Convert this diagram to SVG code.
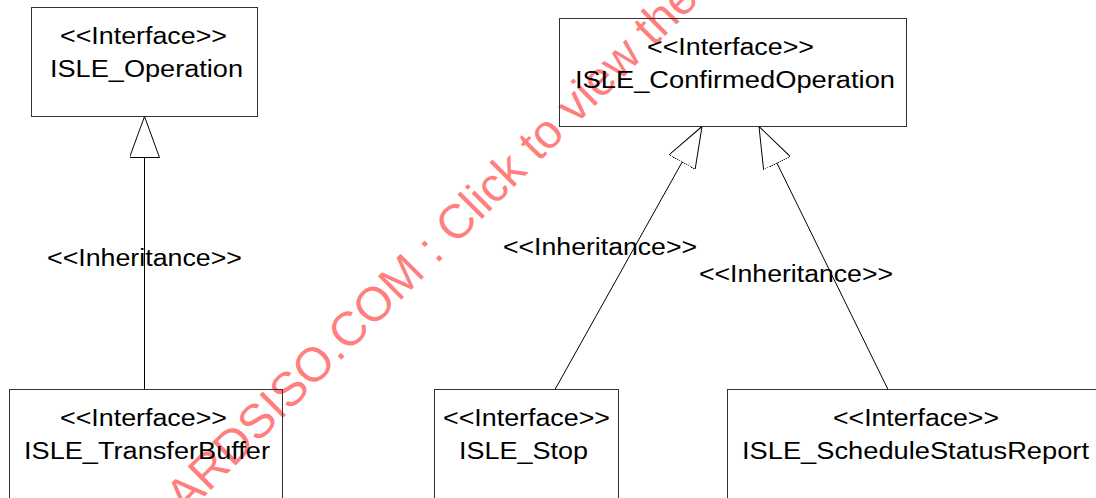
<svg xmlns="http://www.w3.org/2000/svg" width="1096" height="498" viewBox="0 0 1096 498">
  <style>
    .box { fill: none; stroke: #333; stroke-width: 1; }
    .t { font-family: "Liberation Sans", Arial, sans-serif; font-size: 23.5px; fill: #000; }
    .edge { fill: none; stroke: #000; stroke-width: 1; marker-end: url(#gen); }
    .wm { font-family: "Liberation Sans", Arial, sans-serif; font-size: 48px; fill: #ff0000; fill-opacity: 0.5; }
  </style>
  <defs>
    <!-- hollow generalisation head, tip on the path end -->
    <marker id="gen" viewBox="0 0 41 30" refX="41" refY="15" markerWidth="41" markerHeight="30" markerUnits="userSpaceOnUse" orient="auto">
      <path d="M41,15 L0,0 L0,30 Z" fill="#fff" stroke="#000" stroke-width="1"/>
    </marker>
  </defs>

  <rect width="1096" height="498" fill="#fff"/>

  <text class="wm" transform="translate(185.5,515.5) rotate(-45)">ARDSISO.COM : Click to view the</text>

  <g id="connectors">
    <path class="edge" d="M144.5,389 L144.5,116.5"/>
    <path class="edge" d="M555,389.5 L702,126.5"/>
    <path class="edge" d="M888,389.5 L759,126.5"/>
    <text class="t" x="47" y="266" textLength="195" lengthAdjust="spacingAndGlyphs">&lt;&lt;Inheritance&gt;&gt;</text>
    <text class="t" x="503" y="255" textLength="194" lengthAdjust="spacingAndGlyphs">&lt;&lt;Inheritance&gt;&gt;</text>
    <text class="t" x="699" y="282" textLength="194" lengthAdjust="spacingAndGlyphs">&lt;&lt;Inheritance&gt;&gt;</text>
  </g>

  <g id="ISLE_Operation">
    <rect class="box" x="31.5" y="7.5" width="226" height="109"/>
    <text class="t" x="60" y="44" textLength="167" lengthAdjust="spacingAndGlyphs">&lt;&lt;Interface&gt;&gt;</text>
    <text class="t" x="50" y="77" textLength="193" lengthAdjust="spacingAndGlyphs">ISLE_Operation</text>
  </g>

  <g id="ISLE_ConfirmedOperation">
    <rect class="box" x="559.5" y="18.5" width="347" height="108"/>
    <text class="t" x="647" y="55" textLength="167" lengthAdjust="spacingAndGlyphs">&lt;&lt;Interface&gt;&gt;</text>
    <text class="t" x="575" y="88" textLength="320" lengthAdjust="spacingAndGlyphs">ISLE_ConfirmedOperation</text>
  </g>

  <g id="ISLE_TransferBuffer">
    <rect class="box" x="9.5" y="389.5" width="273" height="120"/>
    <text class="t" x="60" y="426" textLength="167" lengthAdjust="spacingAndGlyphs">&lt;&lt;Interface&gt;&gt;</text>
    <text class="t" x="24" y="459" textLength="246" lengthAdjust="spacingAndGlyphs">ISLE_TransferBuffer</text>
  </g>

  <g id="ISLE_Stop">
    <rect class="box" x="434.5" y="389.5" width="184" height="120"/>
    <text class="t" x="443" y="426" textLength="167" lengthAdjust="spacingAndGlyphs">&lt;&lt;Interface&gt;&gt;</text>
    <text class="t" x="459" y="459" textLength="129" lengthAdjust="spacingAndGlyphs">ISLE_Stop</text>
  </g>

  <g id="ISLE_ScheduleStatusReport">
    <rect class="box" x="727.5" y="389.5" width="380" height="120"/>
    <text class="t" x="833" y="426" textLength="166" lengthAdjust="spacingAndGlyphs">&lt;&lt;Interface&gt;&gt;</text>
    <text class="t" x="742" y="459" textLength="347" lengthAdjust="spacingAndGlyphs">ISLE_ScheduleStatusReport</text>
  </g>
</svg>
